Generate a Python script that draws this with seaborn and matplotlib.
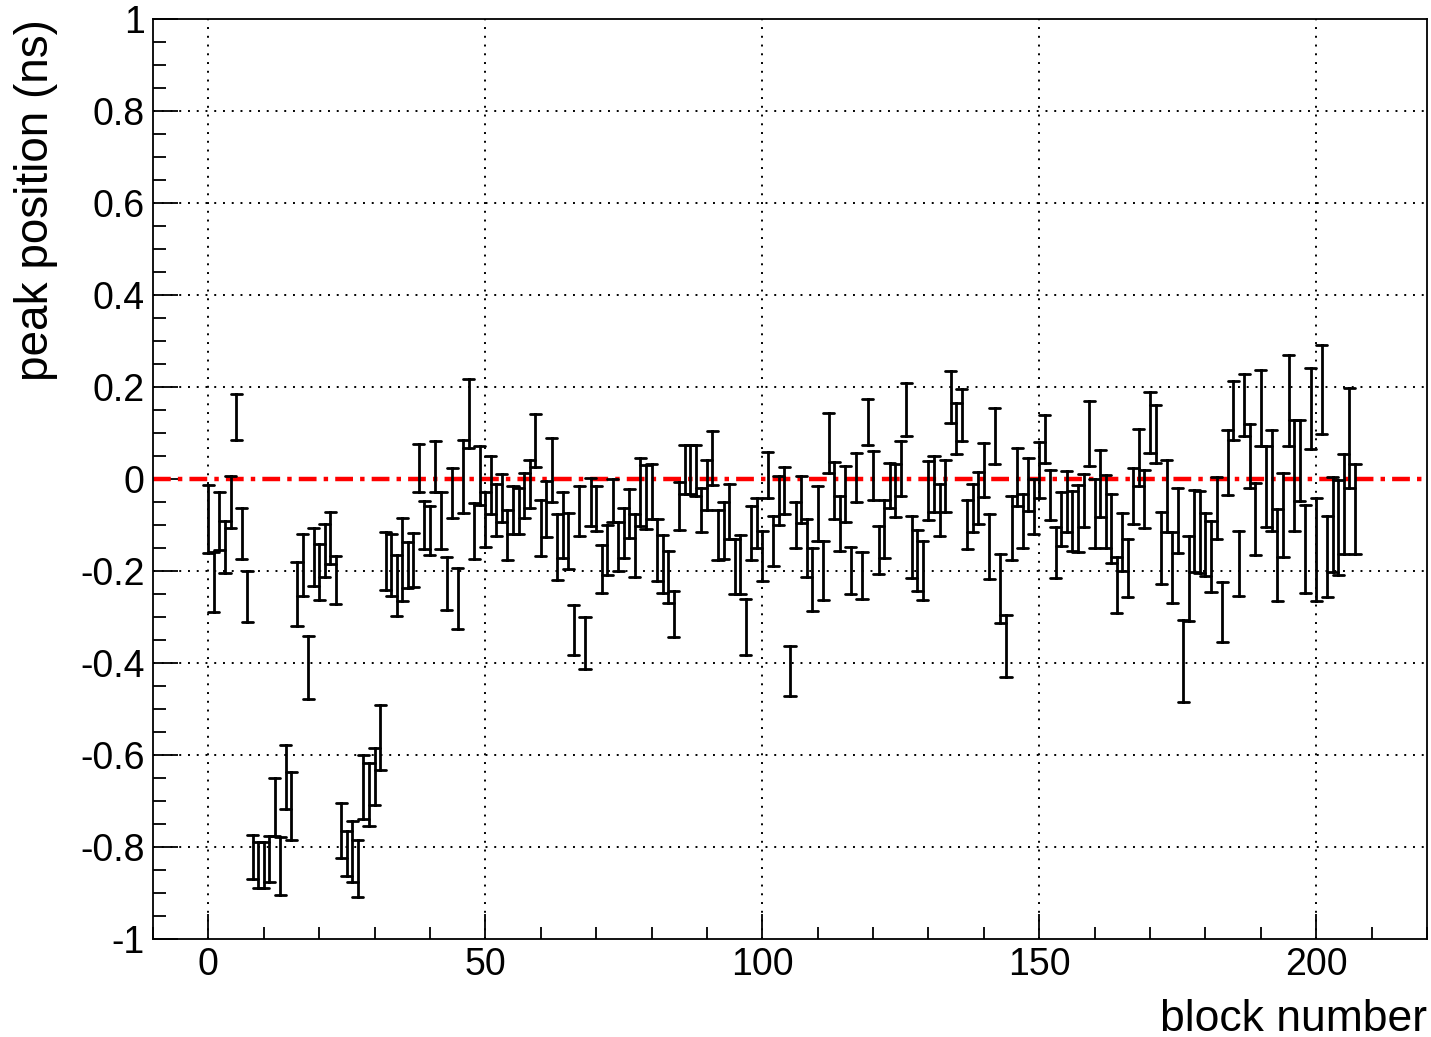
import numpy as np
import pandas as pd
import matplotlib
matplotlib.use("Agg")
import matplotlib.pyplot as plt
import seaborn as sns
from matplotlib.ticker import MultipleLocator, FuncFormatter

# ---- data: block number, peak position (ns), error (ns) ----
block = list(range(0, 208))
peak = [
    -0.087, -0.224, -0.092, -0.148, -0.050, 0.135, -0.118, -0.255, -0.822, -0.840,
    -0.840, -0.825, -0.712, -0.842, -0.648, -0.710, -0.250, -0.187, -0.410, -0.170,
    -0.203, -0.155, -0.128, -0.220, -0.764, -0.815, -0.810, -0.846, -0.670, -0.686,
    -0.646, -0.562, -0.178, -0.187, -0.232, -0.175, -0.187, -0.176, 0.024, -0.100,
    -0.112, 0.027, -0.090, -0.227, -0.031, -0.260, 0.006, 0.142, -0.113, 0.008,
    -0.088, -0.014, -0.067, -0.041, -0.122, -0.068, -0.070, -0.036, -0.011, 0.084,
    -0.106, -0.066, 0.019, -0.148, -0.100, -0.134, -0.328, -0.070, -0.357, -0.050,
    -0.065, -0.195, -0.154, -0.047, -0.146, -0.118, -0.075, -0.144, -0.028, -0.039,
    -0.027, -0.154, -0.184, -0.213, -0.293, -0.059, 0.020, 0.020, 0.018, -0.068,
    -0.013, 0.045, -0.122, -0.112, -0.071, -0.190, -0.185, -0.322, -0.118, -0.096,
    -0.167, 0.008, -0.135, -0.046, -0.026, -0.417, -0.100, -0.044, -0.149, -0.219,
    -0.075, -0.198, 0.078, -0.025, -0.096, -0.032, -0.199, 0.003, -0.210, 0.123,
    0.007, -0.155, -0.108, -0.015, -0.025, 0.023, 0.151, -0.148, -0.177, -0.199,
    -0.025, -0.011, -0.067, -0.015, 0.178, 0.110, 0.139, -0.099, -0.063, -0.041,
    0.019, -0.147, 0.094, -0.238, -0.363, -0.107, 0.005, -0.091, -0.012, -0.060,
    0.019, 0.087, -0.035, -0.160, -0.087, -0.049, -0.092, -0.086, -0.047, 0.099,
    -0.075, -0.009, -0.071, -0.108, -0.230, -0.137, -0.193, -0.037, 0.046, -0.043,
    0.123, 0.098, -0.150, -0.037, -0.192, -0.090, -0.395, -0.217, -0.113, -0.115,
    -0.142, -0.168, -0.063, -0.289, 0.036, 0.149, -0.184, 0.161, 0.050, -0.087,
    0.155, -0.016, -0.004, -0.166, -0.078, 0.171, 0.008, 0.040, -0.152, 0.154,
    -0.154, 0.194, -0.169, -0.099, -0.106, -0.055, 0.089, -0.066,
]
err = [
    0.073, 0.065, 0.063, 0.057, 0.057, 0.050, 0.055, 0.055, 0.048, 0.050,
    0.050, 0.050, 0.063, 0.063, 0.070, 0.074, 0.070, 0.068, 0.068, 0.063,
    0.061, 0.057, 0.057, 0.052, 0.060, 0.049, 0.066, 0.062, 0.069, 0.068,
    0.062, 0.070, 0.063, 0.068, 0.066, 0.090, 0.050, 0.058, 0.052, 0.053,
    0.053, 0.055, 0.062, 0.057, 0.054, 0.066, 0.079, 0.075, 0.061, 0.064,
    0.059, 0.063, 0.056, 0.052, 0.055, 0.052, 0.050, 0.049, 0.053, 0.058,
    0.061, 0.061, 0.070, 0.072, 0.072, 0.061, 0.055, 0.054, 0.057, 0.052,
    0.049, 0.052, 0.054, 0.047, 0.053, 0.054, 0.054, 0.068, 0.074, 0.070,
    0.060, 0.067, 0.063, 0.057, 0.050, 0.052, 0.053, 0.053, 0.055, 0.048,
    0.055, 0.059, 0.055, 0.062, 0.060, 0.060, 0.064, 0.061, 0.059, 0.054,
    0.055, 0.050, 0.055, 0.053, 0.051, 0.055, 0.050, 0.051, 0.063, 0.069,
    0.059, 0.064, 0.065, 0.063, 0.060, 0.061, 0.052, 0.053, 0.051, 0.050,
    0.053, 0.052, 0.063, 0.049, 0.058, 0.059, 0.057, 0.068, 0.066, 0.065,
    0.064, 0.061, 0.057, 0.057, 0.057, 0.055, 0.057, 0.053, 0.052, 0.057,
    0.059, 0.070, 0.061, 0.075, 0.068, 0.070, 0.063, 0.058, 0.058, 0.060,
    0.061, 0.052, 0.054, 0.056, 0.059, 0.067, 0.065, 0.073, 0.058, 0.070,
    0.075, 0.073, 0.079, 0.075, 0.061, 0.063, 0.063, 0.061, 0.062, 0.063,
    0.067, 0.063, 0.079, 0.079, 0.077, 0.070, 0.089, 0.092, 0.090, 0.089,
    0.068, 0.077, 0.067, 0.066, 0.070, 0.064, 0.070, 0.068, 0.070, 0.078,
    0.083, 0.088, 0.110, 0.100, 0.091, 0.099, 0.120, 0.088, 0.096, 0.088,
    0.112, 0.097, 0.088, 0.103, 0.103, 0.109, 0.109, 0.098,
]
x_ticks = [0, 50, 100, 150, 200]
y_ticks = [-1, -0.8, -0.6, -0.4, -0.2, 0, 0.2, 0.4, 0.6, 0.8, 1]
x_label = "block number"
y_label = "peak position (ns)"

# long table: lower and upper edge of each error bar
b_arr = np.array(block)
p_arr = np.array(peak)
e_arr = np.array(err)
df = pd.DataFrame({
    "block": np.concatenate([b_arr, b_arr]),
    "pos": np.concatenate([p_arr - e_arr, p_arr + e_arr]),
})

sns.set_theme(style="white")
plt.rcParams["font.family"] = ["Liberation Sans", "DejaVu Sans"]
plt.rcParams["text.color"] = "black"
plt.rcParams["axes.labelcolor"] = "black"

fig = plt.figure(figsize=(14.31, 10.37), dpi=100)
ax = fig.add_axes([0.1069, 0.0945, 0.8903, 0.8872])

# dotted grid first so the marks draw over it
for xv in x_ticks:
    ax.axvline(xv, color="black", lw=1.4, ls=(0, (1, 3.5)), zorder=0)
for yv in y_ticks[1:-1]:
    if yv != 0:
        ax.axhline(yv, color="black", lw=1.4, ls=(0, (1, 3.5)), zorder=0)

ax.axhline(0, color="#ff0000", lw=3.2, ls=(0, (4, 1.6, 1, 1.6)), zorder=1)

sns.pointplot(
    data=df, x="block", y="pos", native_scale=True,
    estimator="mean", errorbar=lambda v: (v.min(), v.max()),
    capsize=2.0, linestyle="none", marker="", color="black",
    err_kws={"linewidth": 2.0, "color": "black"}, ax=ax, zorder=3,
)

ax.set_xlim(-10, 220)
ax.set_ylim(-1, 1)
ax.set_xticks(x_ticks)
ax.set_yticks(y_ticks)
ax.xaxis.set_minor_locator(MultipleLocator(10))
ax.yaxis.set_minor_locator(MultipleLocator(0.05))
ax.yaxis.set_major_formatter(FuncFormatter(lambda v, p: f"{v:g}" if abs(v) > 1e-9 else "0"))
ax.xaxis.set_major_formatter(FuncFormatter(lambda v, p: f"{v:g}"))

ax.tick_params(axis="both", which="both", direction="in", top=False, right=False,
               bottom=True, left=True, colors="black", labelcolor="black")
ax.tick_params(axis="both", which="major", length=18, width=1.3, labelsize=27)
ax.tick_params(axis="both", which="minor", length=9, width=1.3)
ax.tick_params(axis="y", which="major", pad=6)
ax.tick_params(axis="x", which="major", pad=6)

for s in ax.spines.values():
    s.set_color("black")
    s.set_linewidth(1.3)
    s.set_visible(True)

ax.set_xlabel(x_label, fontsize=32, loc="right", labelpad=11, color="black")
ax.set_ylabel(y_label, fontsize=33, loc="top", labelpad=16, color="black")
ax.grid(False)

fig.savefig("out.png", dpi=100, facecolor="white")
